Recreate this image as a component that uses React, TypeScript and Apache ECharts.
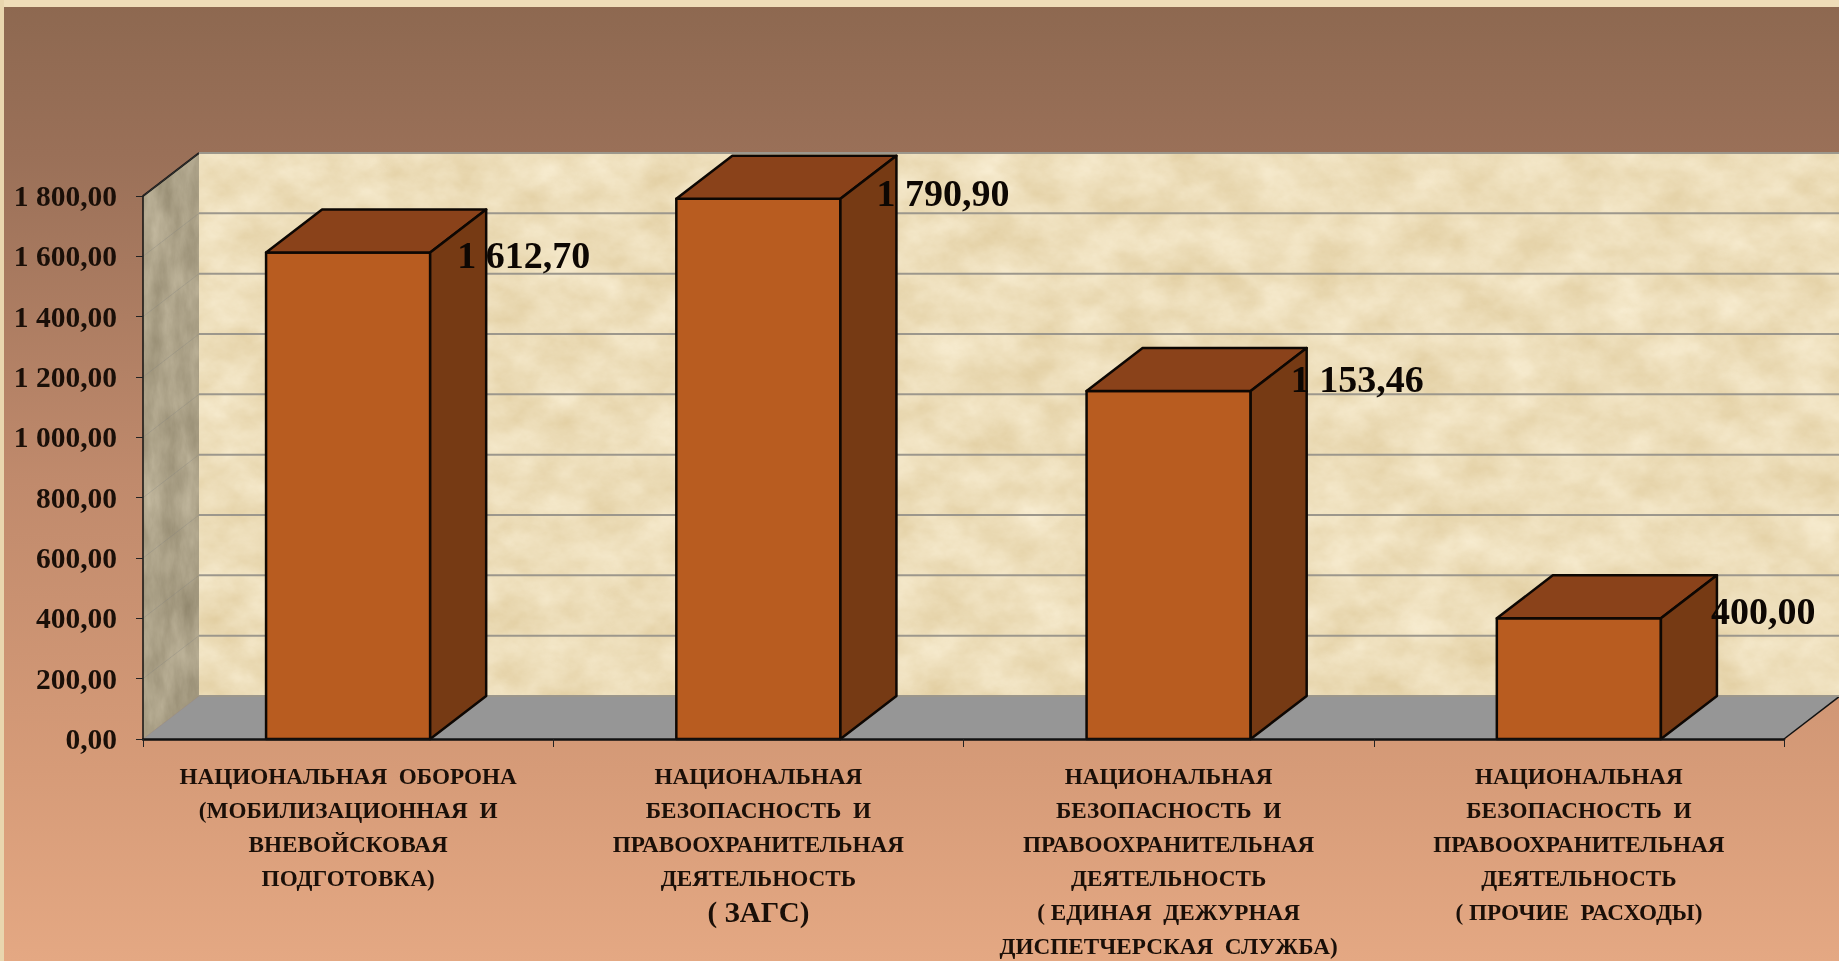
import React, { useEffect, useRef } from "react";
import * as echarts from "echarts";

const categories = [
  "НАЦИОНАЛЬНАЯ  ОБОРОНА\n(МОБИЛИЗАЦИОННАЯ  И\nВНЕВОЙСКОВАЯ\nПОДГОТОВКА)",
  "НАЦИОНАЛЬНАЯ\nБЕЗОПАСНОСТЬ  И\nПРАВООХРАНИТЕЛЬНАЯ\nДЕЯТЕЛЬНОСТЬ\n( ЗАГС)",
  "НАЦИОНАЛЬНАЯ\nБЕЗОПАСНОСТЬ  И\nПРАВООХРАНИТЕЛЬНАЯ\nДЕЯТЕЛЬНОСТЬ\n( ЕДИНАЯ  ДЕЖУРНАЯ\nДИСПЕТЧЕРСКАЯ  СЛУЖБА)",
  "НАЦИОНАЛЬНАЯ\nБЕЗОПАСНОСТЬ  И\nПРАВООХРАНИТЕЛЬНАЯ\nДЕЯТЕЛЬНОСТЬ\n( ПРОЧИЕ  РАСХОДЫ)",
];
const values = [1612.7, 1790.9, 1153.46, 400.0];
const yTicks = [0, 200, 400, 600, 800, 1000, 1200, 1400, 1600, 1800];

// layout
const GRID = { left: 143, right: 55, top: 196, bottom: 222, outerBoundsMode: "none" };
const DX = 56;
const DY = 43;
const LABEL_OFFSET: [number, number][] = [
  [27, 2],
  [36, -6],
  [40, -12],
  [50, -7],
];
const SERIF = '"Liberation Serif", "Times New Roman", serif';

const texture = (fx: number, fy: number, seed: number, m: string, w: number, h: number) => {
  const svg = `<svg xmlns="http://www.w3.org/2000/svg" width="${w}" height="${h}"><filter id="t" x="0" y="0" width="100%" height="100%" color-interpolation-filters="sRGB"><feTurbulence type="fractalNoise" baseFrequency="${fx} ${fy}" numOctaves="6" seed="${seed}"/><feColorMatrix values="${m}"/></filter><rect width="${w}" height="${h}" filter="url(#t)"/></svg>`;
  return "data:image/svg+xml;base64," + btoa(svg);
};
const PARCHMENT = texture(0.02, 0.028, 7, "0.1 0 0 0 0.88  0.14 0 0 0 0.8  0.22 0 0 0 0.62  0 0 0 0 1", 1700, 560);
const STONE = texture(0.05, 0.02, 3, "0.22 0 0 0 0.56  0.22 0 0 0 0.52  0.22 0 0 0 0.42  0 0 0 0 1", 60, 560);

const fmt = (v: number) => {
  const [i, d] = v.toFixed(2).split(".");
  return i.replace(/\B(?=(\d{3})+$)/g, " ") + "," + d;
};

export default function App() {
  const ref = useRef<HTMLDivElement>(null);
  useEffect(() => {
    document.body.style.margin = "0";
    const chart = echarts.init(ref.current!, null, { renderer: "svg" });
    chart.setOption({
      animation: false,
      backgroundColor: {
        type: "linear", x: 0, y: 0, x2: 0, y2: 1,
        colorStops: [
          { offset: 0, color: "#8d6850" },
          { offset: 0.16, color: "#9a7058" },
          { offset: 0.5, color: "#c08a6c" },
          { offset: 0.8, color: "#d69b78" },
          { offset: 1, color: "#e4a883" },
        ],
      },
      grid: GRID,
      tooltip: { show: false },
      xAxis: {
        type: "category",
        data: categories,
        z: 5,
        axisLine: { lineStyle: { color: "#111", width: 2.5 } },
        axisTick: { show: true, length: 8, lineStyle: { color: "#222", width: 1 } },
        axisLabel: {
          interval: 0,
          margin: 20,
          fontFamily: SERIF,
          fontWeight: "bold",
          fontSize: 23.2,
          lineHeight: 34,
          color: "#1a0f08",
          formatter: (s: string) => s.replace("( ЗАГС)", "{big|( ЗАГС)}"),
          rich: {
            big: { fontFamily: SERIF, fontWeight: "bold", fontSize: 29, lineHeight: 34, color: "#1a0f08" },
          },
        },
      },
      yAxis: {
        type: "value",
        min: 0,
        max: 1800,
        interval: 200,
        z: 5,
        splitLine: { show: false },
        axisLine: { show: true, lineStyle: { color: "#111", width: 1.5 } },
        axisTick: { show: true, length: 7, lineStyle: { color: "#222", width: 1 } },
        axisLabel: {
          margin: 26,
          fontFamily: SERIF,
          fontWeight: "bold",
          fontSize: 29.5,
          color: "#1a0f08",
          formatter: (v: number) => fmt(v),
        },
      },
      series: [
        {
          type: "custom",
          name: "backdrop",
          z: 1,
          silent: true,
          coordinateSystem: "cartesian2d",
          data: [[0, 0]],
          renderItem: (_p: any, api: any) => {
            const b0 = api.coord([0, 0]);
            const t0 = api.coord([0, 1800]);
            const bandW = api.size([1, 0])[0];
            const x0 = b0[0] - bandW / 2;
            const x1 = x0 + bandW * 4;
            const y0 = b0[1];
            const yT = t0[1];
            const wallPts = [[x0, y0], [x0 + DX, y0 - DY], [x0 + DX, yT - DY], [x0, yT]];
            return {
              type: "group",
              children: [
                {
                  type: "image",
                  style: { image: PARCHMENT, x: x0 + DX, y: yT - DY, width: 1839 - x0 - DX, height: y0 - yT },
                },
                {
                  type: "image",
                  style: { image: STONE, x: x0, y: yT - DY, width: DX, height: y0 - yT + DY },
                  clipPath: { type: "polygon", shape: { points: wallPts } },
                },
                {
                  type: "polygon",
                  shape: { points: [[x0, y0], [x1, y0], [x1 + DX, y0 - DY], [x0 + DX, y0 - DY]] },
                  style: { fill: "#969696", stroke: "none" },
                },
                {
                  type: "polyline",
                  shape: { points: [[x1, y0], [x1 + DX, y0 - DY]] },
                  style: { fill: "none", stroke: "#111", lineWidth: 1.5 },
                },
                {
                  type: "polyline",
                  shape: { points: [[x0, yT], [x0 + DX, yT - DY]] },
                  style: { fill: "none", stroke: "#111", lineWidth: 2 },
                },
              ],
            };
          },
        },
        {
          type: "custom",
          name: "gridlines",
          z: 2,
          silent: true,
          coordinateSystem: "cartesian2d",
          data: yTicks.map((t) => [0, t]),
          renderItem: (_p: any, api: any) => {
            const c = api.coord([0, api.value(1)]);
            const bandW = api.size([1, 0])[0];
            const x0 = c[0] - bandW / 2;
            return {
              type: "group",
              children: [
                {
                  type: "line",
                  shape: { x1: x0, y1: c[1], x2: x0 + DX, y2: c[1] - DY },
                  style: { stroke: "rgba(130,130,125,0.3)", lineWidth: 1 },
                },
                {
                  type: "line",
                  shape: { x1: x0 + DX, y1: c[1] - DY, x2: 1839, y2: c[1] - DY },
                  style: { stroke: "#9c978c", lineWidth: 2 },
                },
              ],
            };
          },
        },
        {
          type: "custom",
          name: "bars",
          z: 3,
          silent: true,
          coordinateSystem: "cartesian2d",
          data: values.map((v, i) => [i, v]),
          encode: { x: 0, y: 1 },
          renderItem: (p: any, api: any) => {
            const v = api.value(1);
            const top = api.coord([api.value(0), v]);
            const base = api.coord([api.value(0), 0]);
            const w = api.size([1, 0])[0] * 0.4;
            const l = top[0] - w / 2;
            const r = top[0] + w / 2;
            const stroke = { stroke: "#0d0703", lineWidth: 2.5, lineJoin: "round" };
            const off = LABEL_OFFSET[p.dataIndex];
            return {
              type: "group",
              children: [
                {
                  type: "polygon",
                  shape: { points: [[l, top[1]], [r, top[1]], [r, base[1]], [l, base[1]]] },
                  style: { fill: "#b85c20", ...stroke },
                },
                {
                  type: "polygon",
                  shape: { points: [[l, top[1]], [l + DX, top[1] - DY], [r + DX, top[1] - DY], [r, top[1]]] },
                  style: { fill: "#8a421a", ...stroke },
                },
                {
                  type: "polygon",
                  shape: { points: [[r, top[1]], [r + DX, top[1] - DY], [r + DX, base[1] - DY], [r, base[1]]] },
                  style: { fill: "#763a14", ...stroke },
                },
                {
                  type: "text",
                  style: {
                    text: fmt(v),
                    x: r + off[0],
                    y: top[1] + off[1],
                    fill: "#0d0703",
                    font: `bold 38px ${SERIF}`,
                    textAlign: "left",
                    textVerticalAlign: "middle",
                  },
                },
              ],
            };
          },
        },
      ],
      graphic: [
        { type: "rect", silent: true, z: 100, shape: { x: 0, y: 0, width: 1839, height: 7 }, style: { fill: "#efddb8" } },
        { type: "rect", silent: true, z: 100, shape: { x: 0, y: 0, width: 4, height: 961 }, style: { fill: "#e9d6ae" } },
      ],
    });
    return () => chart.dispose();
  }, []);
  return <div ref={ref} style={{ width: 1839, height: 961, filter: "blur(0.4px)" }} />;
}
